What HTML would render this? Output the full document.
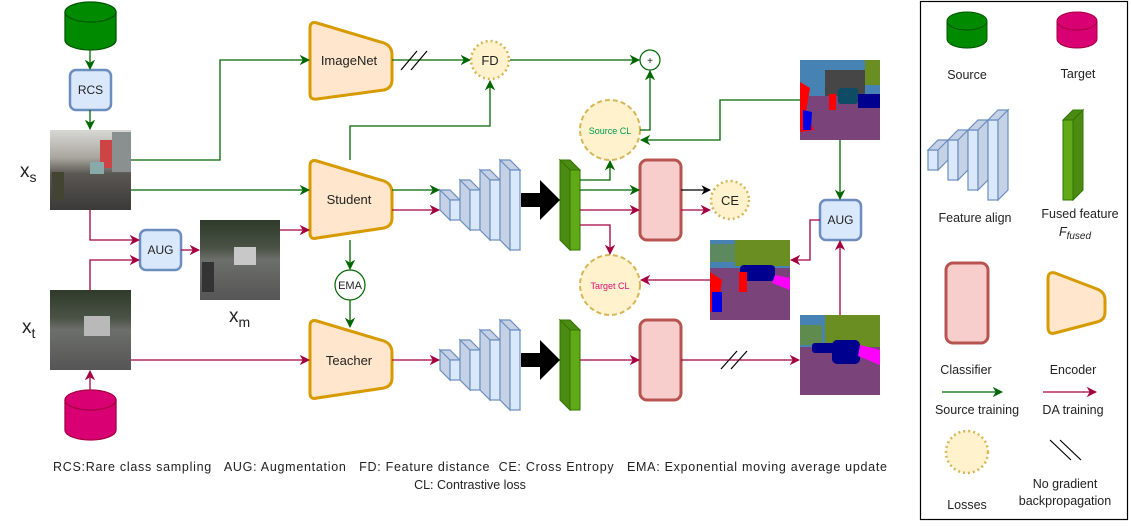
<!DOCTYPE html>
<html><head><meta charset="utf-8"><style>
html,body{margin:0;padding:0;background:#fff;}
svg{display:block;font-family:"Liberation Sans",Arial,sans-serif;}
.pre{white-space:pre;}
</style></head><body>
<svg width="1131" height="526" viewBox="0 0 1131 526" xmlns="http://www.w3.org/2000/svg">
<defs>
<marker id="ag" viewBox="0 0 10 10" refX="9" refY="5" markerWidth="8" markerHeight="8" orient="auto"><path d="M0,0 L10,5 L0,10 L3,5 Z" fill="#006600"/></marker>
<marker id="ar" viewBox="0 0 10 10" refX="9" refY="5" markerWidth="8" markerHeight="8" orient="auto"><path d="M0,0 L10,5 L0,10 L3,5 Z" fill="#a50040"/></marker>
<marker id="ak" viewBox="0 0 10 10" refX="9" refY="5" markerWidth="8" markerHeight="8" orient="auto"><path d="M0,0 L10,5 L0,10 L3,5 Z" fill="#000"/></marker>
<linearGradient id="street" x1="0" y1="0" x2="0" y2="1"><stop offset="0" stop-color="#d8d8d4"/><stop offset="0.35" stop-color="#a8a59e"/><stop offset="0.55" stop-color="#5a5753"/><stop offset="1" stop-color="#3b3a38"/></linearGradient>
<linearGradient id="street2" x1="0" y1="0" x2="0" y2="1"><stop offset="0" stop-color="#2f3a2a"/><stop offset="0.35" stop-color="#4a5245"/><stop offset="0.5" stop-color="#6d6f6c"/><stop offset="1" stop-color="#555"/></linearGradient>
</defs>

<g fill="none" stroke-width="1.3">
<path d="M65,12 L65,40 A25.5,10 0 0 0 116,40 L116,12" fill="#008a00" stroke="#005700"/>
<ellipse cx="90.5" cy="12" rx="25.5" ry="10" fill="#008a00" stroke="#005700"/>
<path d="M65,400 L65,430 A25.5,10 0 0 0 116,430 L116,400" fill="#d80073" stroke="#a50040"/>
<ellipse cx="90.5" cy="400" rx="25.5" ry="10" fill="#d80073" stroke="#a50040"/>
</g>

<rect x="70" y="70" width="41" height="40" rx="6" fill="#dae8fc" stroke="#6c8ebf" stroke-width="2.5"/>
<text x="90.5" y="94" font-size="12" text-anchor="middle" fill="#222">RCS</text>
<rect x="140" y="230" width="41" height="40" rx="6" fill="#dae8fc" stroke="#6c8ebf" stroke-width="2.5"/>
<text x="160.5" y="254" font-size="12" text-anchor="middle" fill="#222">AUG</text>
<rect x="820" y="200" width="41" height="40" rx="6" fill="#dae8fc" stroke="#6c8ebf" stroke-width="2.5"/>
<text x="840.5" y="224" font-size="12" text-anchor="middle" fill="#222">AUG</text>

<g>
<rect x="50" y="130" width="81" height="80" fill="url(#street)"/>
<rect x="100" y="140" width="12" height="28" fill="#c44"/><rect x="112" y="132" width="19" height="40" fill="#8a9090"/>
<rect x="90" y="162" width="14" height="12" fill="#8aa"/>
<rect x="52" y="172" width="12" height="28" fill="#443"/>
<rect x="200" y="220" width="80" height="80" fill="url(#street2)"/>
<rect x="234" y="247" width="22" height="18" fill="#c8c8c8"/>
<rect x="202" y="262" width="12" height="30" fill="#333"/>
<rect x="50" y="290" width="81" height="80" fill="url(#street2)"/>
<rect x="84" y="316" width="26" height="20" fill="#b9b9b9"/>
</g>
<text x="20" y="177" font-size="19" fill="#222">x<tspan font-size="14" dy="5">s</tspan></text>
<text x="22" y="333" font-size="19" fill="#222">x<tspan font-size="14" dy="5">t</tspan></text>
<text x="229" y="322" font-size="19" fill="#222">x<tspan font-size="14" dy="5">m</tspan></text>

<g>
<rect x="800" y="60" width="80" height="80" fill="#7a447a"/>
<rect x="800" y="60" width="80" height="36" fill="#4682b4"/>
<rect x="865" y="60" width="15" height="25" fill="#6b8e23"/>
<rect x="825" y="70" width="40" height="26" fill="#464646"/>
<rect x="838" y="88" width="20" height="16" fill="#0e4c66" rx="3"/>
<rect x="858" y="94" width="22" height="14" fill="#00008e"/>
<path d="M800,82 L810,88 L806,112 L814,130 L800,132 Z" fill="#f00"/>
<path d="M803,110 L812,112 L811,130 L803,130 Z" fill="#0000e6"/>
<rect x="829" y="94" width="7" height="16" fill="#f00"/>

<rect x="710" y="240" width="80" height="80" fill="#7a447a"/>
<rect x="710" y="240" width="80" height="28" fill="#4682b4"/>
<rect x="735" y="240" width="55" height="26" fill="#6b8e23"/>
<rect x="710" y="244" width="25" height="18" fill="#6b8e23" opacity="0.6"/>
<rect x="740" y="265" width="35" height="16" rx="4" fill="#00008e"/>
<path d="M775,275 L790,278 L790,290 L772,283 Z" fill="#f0f"/>
<path d="M710,272 L722,280 L718,310 L710,312 Z" fill="#f00"/>
<rect x="712" y="292" width="10" height="20" fill="#0000e6"/>
<rect x="739" y="272" width="8" height="20" fill="#f00"/>

<rect x="800" y="315" width="80" height="80" fill="#7a447a"/>
<rect x="800" y="315" width="80" height="32" fill="#4682b4"/>
<rect x="825" y="315" width="55" height="32" fill="#6b8e23"/>
<rect x="800" y="325" width="22" height="20" fill="#6b8e23" opacity="0.7"/>
<rect x="832" y="340" width="28" height="24" rx="5" fill="#00008e"/>
<rect x="812" y="343" width="22" height="10" rx="3" fill="#00008e"/>
<path d="M860,345 L880,350 L880,365 L858,356 Z" fill="#f0f"/>
</g>

<g fill="#ffe6cc" stroke="#d79b00" stroke-width="3">
<path d="M310,28 Q310,21 317,23 L384,43 Q392,46 392,55 L392,80 Q392,88 384,90 L317,99 Q310,100 310,94 Z"/>
<path d="M310,166 Q310,159 317,161 L384,181 Q392,184 392,193 L392,218 Q392,226 384,228 L317,238 Q310,240 310,233 Z"/>
<path d="M310,326 Q310,319 317,321 L384,341 Q392,344 392,353 L392,378 Q392,386 384,388 L317,398 Q310,400 310,393 Z"/>
<path d="M1048,279 Q1048,271 1055,273 L1097,289 Q1105,292 1105,300 L1105,312 Q1105,320 1097,322 L1055,333 Q1048,335 1048,327 Z"/>
</g>
<g font-size="13" text-anchor="middle" fill="#222">
<text x="349" y="65">ImageNet</text>
<text x="349" y="204">Student</text>
<text x="349" y="365">Teacher</text>
</g>

<g fill="#f8cecc" stroke="#b85450" stroke-width="3">
<rect x="640" y="160" width="41" height="80" rx="7"/>
<rect x="640" y="320" width="41" height="80" rx="7"/>
<rect x="946" y="263" width="42" height="80" rx="7"/>
</g>

<g stroke="#6c8ebf" stroke-width="1.2">
<g>
<path d="M440,190 L450,200 L450,220 L440,210 Z M440,190 L450,190 L460,200 L450,200 Z" fill="#c5d2e6"/><rect x="450" y="200" width="10" height="20" fill="#dae8fc"/>
<path d="M460,180 L470,190 L470,230 L460,220 Z M460,180 L470,180 L480,190 L470,190 Z" fill="#c5d2e6"/><rect x="470" y="190" width="10" height="40" fill="#dae8fc"/>
<path d="M480,170 L490,180 L490,240 L480,230 Z M480,170 L490,170 L500,180 L490,180 Z" fill="#c5d2e6"/><rect x="490" y="180" width="10" height="60" fill="#dae8fc"/>
<path d="M500,160 L510,170 L510,250 L500,240 Z M500,160 L510,160 L520,170 L510,170 Z" fill="#c5d2e6"/><rect x="510" y="170" width="10" height="80" fill="#dae8fc"/>
</g>
<g transform="translate(0,160)">
<path d="M440,190 L450,200 L450,220 L440,210 Z M440,190 L450,190 L460,200 L450,200 Z" fill="#c5d2e6"/><rect x="450" y="200" width="10" height="20" fill="#dae8fc"/>
<path d="M460,180 L470,190 L470,230 L460,220 Z M460,180 L470,180 L480,190 L470,190 Z" fill="#c5d2e6"/><rect x="470" y="190" width="10" height="40" fill="#dae8fc"/>
<path d="M480,170 L490,180 L490,240 L480,230 Z M480,170 L490,170 L500,180 L490,180 Z" fill="#c5d2e6"/><rect x="490" y="180" width="10" height="60" fill="#dae8fc"/>
<path d="M500,160 L510,170 L510,250 L500,240 Z M500,160 L510,160 L520,170 L510,170 Z" fill="#c5d2e6"/><rect x="510" y="170" width="10" height="80" fill="#dae8fc"/>
</g>
<g>
<rect x="928" y="150" width="10" height="20" fill="#dae8fc"/><path d="M938,150 L948,140 L948,160 L938,170 Z M928,150 L938,140 L948,140 L938,150 Z" fill="#c5d2e6"/>
<rect x="948" y="140" width="10" height="40" fill="#dae8fc"/><path d="M958,140 L968,130 L968,170 L958,180 Z M948,140 L958,130 L968,130 L958,140 Z" fill="#c5d2e6"/>
<rect x="968" y="130" width="10" height="60" fill="#dae8fc"/><path d="M978,130 L988,120 L988,180 L978,190 Z M968,130 L978,120 L988,120 L978,130 Z" fill="#c5d2e6"/>
<rect x="988" y="120" width="10" height="80" fill="#dae8fc"/><path d="M998,120 L1008,110 L1008,190 L998,200 Z M988,120 L998,110 L1008,110 L998,120 Z" fill="#c5d2e6"/>
</g>
</g>

<g stroke="#2d7600" stroke-width="1">
<path d="M560,160 L570,170 L570,250 L560,240 Z M560,160 L570,160 L580,170 L570,170 Z" fill="#4d8a12"/><rect x="570" y="170" width="10" height="80" fill="#60a917"/>
<path d="M560,320 L570,330 L570,410 L560,400 Z M560,320 L570,320 L580,330 L570,330 Z" fill="#4d8a12"/><rect x="570" y="330" width="10" height="80" fill="#60a917"/>
<rect x="1063" y="120" width="10" height="80" fill="#60a917"/><path d="M1073,120 L1083,110 L1083,190 L1073,200 Z M1063,120 L1073,110 L1083,110 L1073,120 Z" fill="#4d8a12"/>
</g>

<path d="M521,193 L540,193 L540,180 L560,200 L540,220 L540,207 L521,207 Z" fill="#000"/>
<path d="M521,353 L540,353 L540,340 L560,360 L540,380 L540,367 L521,367 Z" fill="#000"/>

<g fill="#fff2cc" stroke="#d6b656" stroke-width="2.5">
<circle cx="490" cy="60" r="19" stroke-dasharray="2 3"/>
<circle cx="730" cy="200" r="19" stroke-dasharray="2 3"/>
<circle cx="967" cy="452" r="21" stroke-dasharray="2 3"/>
<circle cx="610" cy="130" r="30" stroke-width="2" stroke-dasharray="5 3"/>
<circle cx="610" cy="285" r="30" stroke-width="2" stroke-dasharray="5 3"/>
</g>
<text x="490" y="65" font-size="13" text-anchor="middle" fill="#222">FD</text>
<text x="730" y="205" font-size="13" text-anchor="middle" fill="#222">CE</text>
<text x="610" y="134" font-size="9" text-anchor="middle" fill="#00994d">Source CL</text>
<text x="610" y="289" font-size="9" text-anchor="middle" fill="#e0107a">Target CL</text>
<circle cx="650" cy="60" r="10" fill="#fff" stroke="#006600" stroke-width="1.2"/>
<text x="650" y="64" font-size="10" text-anchor="middle" fill="#222">+</text>
<circle cx="350" cy="285" r="15" fill="#fff" stroke="#006600" stroke-width="1.2"/>
<text x="350" y="289" font-size="11" text-anchor="middle" fill="#222">EMA</text>

<g fill="none" stroke="#006600" stroke-width="1.3" marker-end="url(#ag)">
<path d="M90,50 L90,69"/>
<path d="M90,110 L90,129"/>
<path d="M131,160 L220,160 L220,60 L309,60"/>
<path d="M131,190 L309,190"/>
<path d="M350,160 L350,126 L490,126 L490,81"/>
<path d="M392,60 L470,60"/>
<path d="M510,60 L639,60"/>
<path d="M640,130 L650,130 L650,71"/>
<path d="M392,190 L439,190"/>
<path d="M580,180 L610,180 L610,161"/>
<path d="M580,190 L639,190"/>
<path d="M800,100 L720,100 L720,140 L641,140"/>
<path d="M840,140 L840,199"/>
<path d="M350,240 L350,269"/>
<path d="M350,300 L350,327"/>
<path d="M942,392 L1002,392"/>
</g>
<g fill="none" stroke="#a50040" stroke-width="1.3" marker-end="url(#ar)">
<path d="M90,210 L90,240 L139,240"/>
<path d="M90,290 L90,260 L139,260"/>
<path d="M181,250 L199,250"/>
<path d="M280,230 L309,230"/>
<path d="M90,390 L90,371"/>
<path d="M131,360 L309,360"/>
<path d="M392,210 L439,210"/>
<path d="M392,360 L439,360"/>
<path d="M580,210 L639,210"/>
<path d="M580,225 L610,225 L610,254"/>
<path d="M681,210 L710,210"/>
<path d="M580,360 L639,360"/>
<path d="M681,360 L799,360"/>
<path d="M820,220 L810,220 L810,260 L791,260"/>
<path d="M710,280 L641,280"/>
<path d="M840,315 L840,241"/>
<path d="M1043,392 L1096,392"/>
</g>
<path d="M681,190 L710,190" stroke="#000" stroke-width="1.2" fill="none" marker-end="url(#ak)"/>

<g stroke="#000" stroke-width="1.2">
<line x1="401" y1="70" x2="417" y2="51"/><line x1="411" y1="70" x2="427" y2="51"/>
<line x1="721" y1="369" x2="737" y2="351"/><line x1="731" y1="369" x2="747" y2="351"/>
<line x1="1050" y1="440" x2="1071" y2="460"/><line x1="1060" y1="440" x2="1081" y2="460"/>
</g>

<text class="pre" x="53" y="471" font-size="12.5" fill="#222" textLength="834" lengthAdjust="spacing" xml:space="preserve">RCS:Rare class sampling   AUG: Augmentation   FD: Feature distance  CE: Cross Entropy   EMA: Exponential moving average update</text>
<text x="470" y="489" font-size="12.5" text-anchor="middle" fill="#222">CL: Contrastive loss</text>

<rect x="920.5" y="1.5" width="207" height="518" fill="none" stroke="#000" stroke-width="1.2"/>
<g>
<path d="M947,21 L947,39 A20,9 0 0 0 987,39 L987,21" fill="#008a00" stroke="#005700"/>
<ellipse cx="967" cy="21" rx="20" ry="9" fill="#008a00" stroke="#005700"/>
<path d="M1057,21 L1057,39 A20,9 0 0 0 1097,39 L1097,21" fill="#d80073" stroke="#a50040"/>
<ellipse cx="1077" cy="21" rx="20" ry="9" fill="#d80073" stroke="#a50040"/>
</g>
<g font-size="12.5" text-anchor="middle" fill="#222">
<text x="967" y="79">Source</text>
<text x="1078" y="78">Target</text>
<text x="975" y="222">Feature align</text>
<text x="1080" y="218">Fused feature</text>
<text x="1075" y="236" font-style="italic">F<tspan font-size="10" dy="3">fused</tspan></text>
<text x="966" y="374">Classifier</text>
<text x="1073" y="374">Encoder</text>
<text x="977" y="414">Source training</text>
<text x="1073" y="414">DA training</text>
<text x="967" y="509">Losses</text>
<text x="1065" y="488">No gradient</text>
<text x="1065" y="505">backpropagation</text>
</g>
</svg>
</body></html>
